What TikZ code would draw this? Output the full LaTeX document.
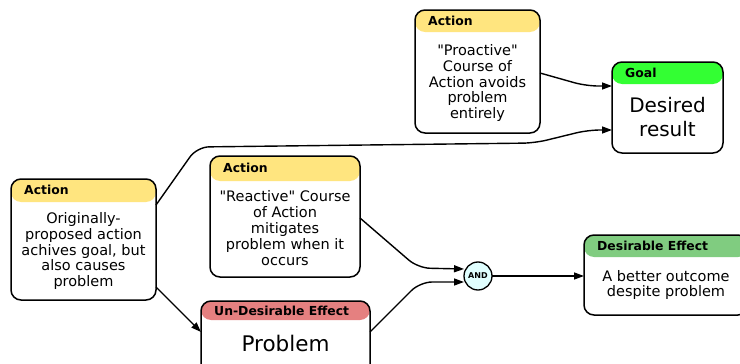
\documentclass[tikz,border=0pt]{standalone}
\usepackage{fontspec}
\newfontfamily\dv{DejaVu Sans}
\usetikzlibrary{arrows.meta,calc}
\definecolor{actcol}{HTML}{FFE57F}
\definecolor{goalcol}{HTML}{33FF33}
\definecolor{badcol}{HTML}{E58080}
\definecolor{goodcol}{HTML}{80CC80}
\definecolor{andcol}{HTML}{E0FFFF}
\begin{document}
\begin{tikzpicture}[x=1pt,y=-1pt,
  box/.style 2 args={draw, line width=1.5pt, rounded corners=10pt, fill=white, inner sep=0pt, outer sep=0pt, anchor=north west,
    path picture={\fill[#1] (path picture bounding box.north west) rectangle ([yshift=-#2pt]path picture bounding box.north east);}},
  hdr/.style={font=\dv\bfseries\fontsize{12.4}{14}\selectfont, anchor=west, inner sep=0pt},
  body/.style={font=\dv\fontsize{14.5}{15.8}\selectfont, align=center, inner sep=0pt},
  big/.style={font=\dv\fontsize{20}{23.5}\selectfont, align=center, inner sep=0pt},
  arr/.style={line width=1.4pt, -{Triangle[length=10pt,width=7pt]}, rounded corners=12pt},
  andnode/.style={circle, draw, line width=1.3pt, fill=andcol, minimum size=28pt, inner sep=0pt, outer sep=0pt, font=\dv\bfseries\fontsize{8}{9}\selectfont}
]
\useasboundingbox (0,0) rectangle (740,364);
\fill[white] (0,0) rectangle (740,364);
\clip (0,0) rectangle (740,364);

% boxes
\node[box={actcol}{23}, minimum width=145pt, minimum height=121pt] (A1) at (11,179) {};
\node[hdr] (A1h) at (24,190) {Action};
\node[body] (A1b) at (83.5,251) {Originally-\\proposed action\\achives goal, but\\also causes\\problem};

\node[box={actcol}{22}, minimum width=125pt, minimum height=123pt] (A2) at (415,10) {};
\node[hdr] (A2h) at (428,21) {Action};
\node[body] (A2b) at (477.5,83) {"Proactive"\\Course of\\Action avoids\\problem\\entirely};

\node[box={goalcol}{22}, minimum width=111pt, minimum height=91pt] (G) at (612,62) {};
\node[hdr] (Gh) at (625,73) {Goal};
\node[big] (Gb) at (667.5,117) {Desired\\result};

\node[box={actcol}{25}, minimum width=150pt, minimum height=121pt] (A3) at (210,156) {};
\node[hdr] (A3h) at (223,168) {Action};
\node[body] (A3b) at (285,228) {"Reactive" Course\\of Action\\mitigates\\problem when it\\occurs};

\node[box={badcol}{19}, minimum width=169pt, minimum height=84pt] (P) at (201,301) {};
\node[hdr] (Ph) at (214,311) {Un-Desirable Effect};
\node[big, font=\dv\fontsize{21.5}{24}\selectfont] (Pb) at (285.5,343) {Problem};

\node[box={goodcol}{22}, minimum width=164pt, minimum height=80pt] (D) at (584,235) {};
\node[hdr] (Dh) at (597,246) {Desirable Effect};
\node[body] (Db) at (666,285) {A better outcome\\despite problem};

\node[andnode] (AND) at (478,276) {AND};

% connectors
\draw[arr] ($(A1.north east)+(0,26)$) -- (197,147) -- (535,143) -- (588,130) -- ($(G.south west)+(0,-23)$);
\draw[arr] ($(A2.north east)+(0,63)$) -- (586,86) -- ($(G.north west)+(0,24)$);
\draw[arr] ($(A3.north east)+(0,62)$) -- (418,268) -- ($(AND.west)+(0,-7)$);
\draw[arr] ($(P.north west)+(169,31)$) -- (420,282) -- ($(AND.west)+(0,6)$);
\draw[arr] (AND.east) -- (AND.east -| D.west);
\draw[arr] ($(A1.south east)+(0,-13)$) -- ($(P.north west)+(0,31)$);
\end{tikzpicture}
\end{document}
